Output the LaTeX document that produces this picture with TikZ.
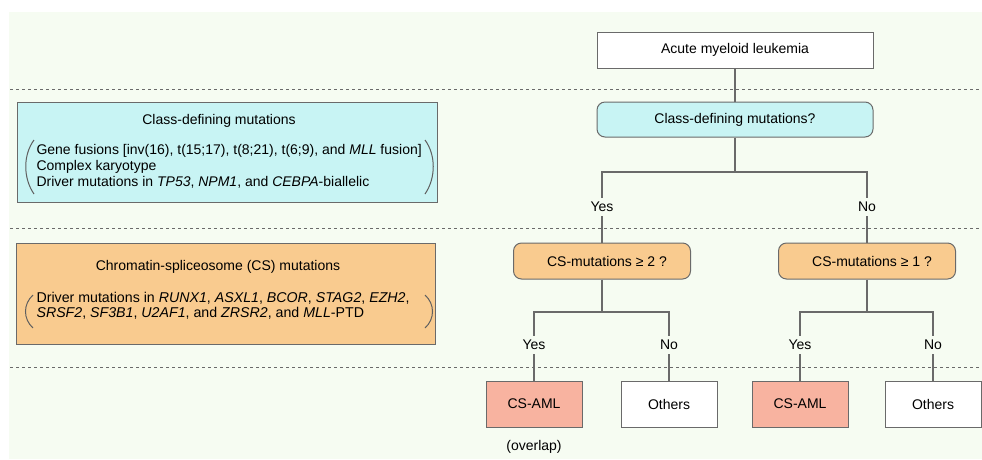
\documentclass[tikz,border=0pt]{standalone}
\usepackage{fontspec}
\setmainfont{Liberation Sans}
\usepackage{xcolor}
\usepackage{tikz}

\definecolor{bgtint}{HTML}{F6FCF2}
\definecolor{cdcyan}{HTML}{C8F4F4}
\definecolor{csorange}{HTML}{F9CB8F}
\definecolor{amlred}{HTML}{F8B3A0}
\definecolor{edgegray}{HTML}{6A6A6A}

\begin{document}
\begin{tikzpicture}[x=1pt,y=-1pt,
        font=\fontsize{14}{16}\selectfont,
        plainbox/.style={draw=edgegray,line width=1pt,fill=white,minimum width=276pt,minimum height=36pt},
        askbox/.style={draw=edgegray,line width=1pt,rounded corners=8pt,minimum width=177pt,minimum height=36pt},
        leafbox/.style={draw=edgegray,line width=1pt,minimum width=96pt,minimum height=46pt},
        infobox/.style={draw=edgegray,line width=1pt,minimum width=420pt,minimum height=100pt},
        answer/.style={inner sep=4pt},
        branch/.style={draw=edgegray,line width=1.5pt},
        paren/.style={draw=edgegray!90!black,line width=1pt},
        sep/.style={dashed,edgegray,line width=1pt}]
            \useasboundingbox (0,0) rectangle (982,459);
            \fill[bgtint] (9,12) rectangle (982,459);

            % separators
            \draw[sep] (10,89) -- (982,89);
            \draw[sep] (10,228) -- (982,228);
            \draw[sep] (10,367) -- (982,367);

            % left panel
            \node[infobox,fill=cdcyan] (cdbox) at (227,152) {};
            \node (cdtitle) at (219,121) {Class-defining mutations};
            \node[anchor=west,align=left] (cdlist) at (33,166) {Gene fusions [inv(16), t(15;17), t(8;21), t(6;9), and \textit{MLL} fusion]\\Complex karyotype\\Driver mutations in \textit{TP53}, \textit{NPM1}, and \textit{CEBPA}-biallelic};
            \draw[paren] (34,140) .. controls (23,155) and (23,178) .. (34,194);
            \draw[paren] (425,140) .. controls (436,155) and (436,178) .. (425,194);

            \node[infobox,fill=csorange,minimum width=419pt,minimum height=101pt] (csbox) at (225.5,293.5) {};
            \node (cstitle) at (218,267) {Chromatin-spliceosome (CS) mutations};
            \node[anchor=west,align=left,font=\fontsize{14.2}{15}\selectfont] (cslist) at (33,306) {Driver mutations in \textit{RUNX1}, \textit{ASXL1}, \textit{BCOR}, \textit{STAG2}, \textit{EZH2},\\\textit{SRSF2}, \textit{SF3B1}, \textit{U2AF1}, and \textit{ZRSR2}, and \textit{MLL}-PTD};
            \draw[paren] (33,295) .. controls (23,304) and (23,319) .. (33,328);
            \draw[paren] (425,295) .. controls (435,304) and (435,319) .. (425,328);

            % decision tree
            \node[plainbox] (aml) at (735,50) {Acute myeloid leukemia};
            \node[askbox,fill=cdcyan,minimum width=276pt,minimum height=35pt] (cdq) at (735,119.5) {Class-defining mutations?};
            \node[answer] (yes1) at (602,207) {Yes};
            \node[answer] (no1) at (867,207) {No};
            \node[askbox,fill=csorange] (cs2) at (602,261) {\hspace*{10pt}CS-mutations ≥ 2 ?};
            \node[askbox,fill=csorange] (cs1) at (867,261) {\hspace*{10pt}CS-mutations ≥ 1 ?};
            \node[answer] (yes2) at (534,345) {Yes};
            \node[answer] (no2) at (669,345) {No};
            \node[answer] (yes3) at (800,345) {Yes};
            \node[answer] (no3) at (933,345) {No};
            \node[leafbox,fill=amlred] (aml2) at (534,404) {CS-AML};
            \node[leafbox,fill=white] (oth2) at (669,404) {Others};
            \node[leafbox,fill=amlred] (aml3) at (800,404) {CS-AML};
            \node[leafbox,fill=white] (oth3) at (933,404) {Others};
            \node (ovl) at (534,447) {(overlap)};

            \coordinate (fork1) at (735,172);
            \coordinate (fork2) at (602,312);
            \coordinate (fork3) at (867,312);

            \draw[branch] (aml) -- (cdq);
            \draw[branch] (cdq) -- (fork1);
            \draw[branch] (yes1.north) |- (fork1) -| (no1.north);
            \draw[branch] (yes1) -- (cs2);
            \draw[branch] (no1) -- (cs1);
            \draw[branch] (cs2) -- (fork2);
            \draw[branch] (yes2.north) |- (fork2) -| (no2.north);
            \draw[branch] (cs1) -- (fork3);
            \draw[branch] (yes3.north) |- (fork3) -| (no3.north);
            \draw[branch] (yes2) -- (aml2);
            \draw[branch] (no2) -- (oth2);
            \draw[branch] (yes3) -- (aml3);
            \draw[branch] (no3) -- (oth3);
        \end{tikzpicture}
\end{document}
